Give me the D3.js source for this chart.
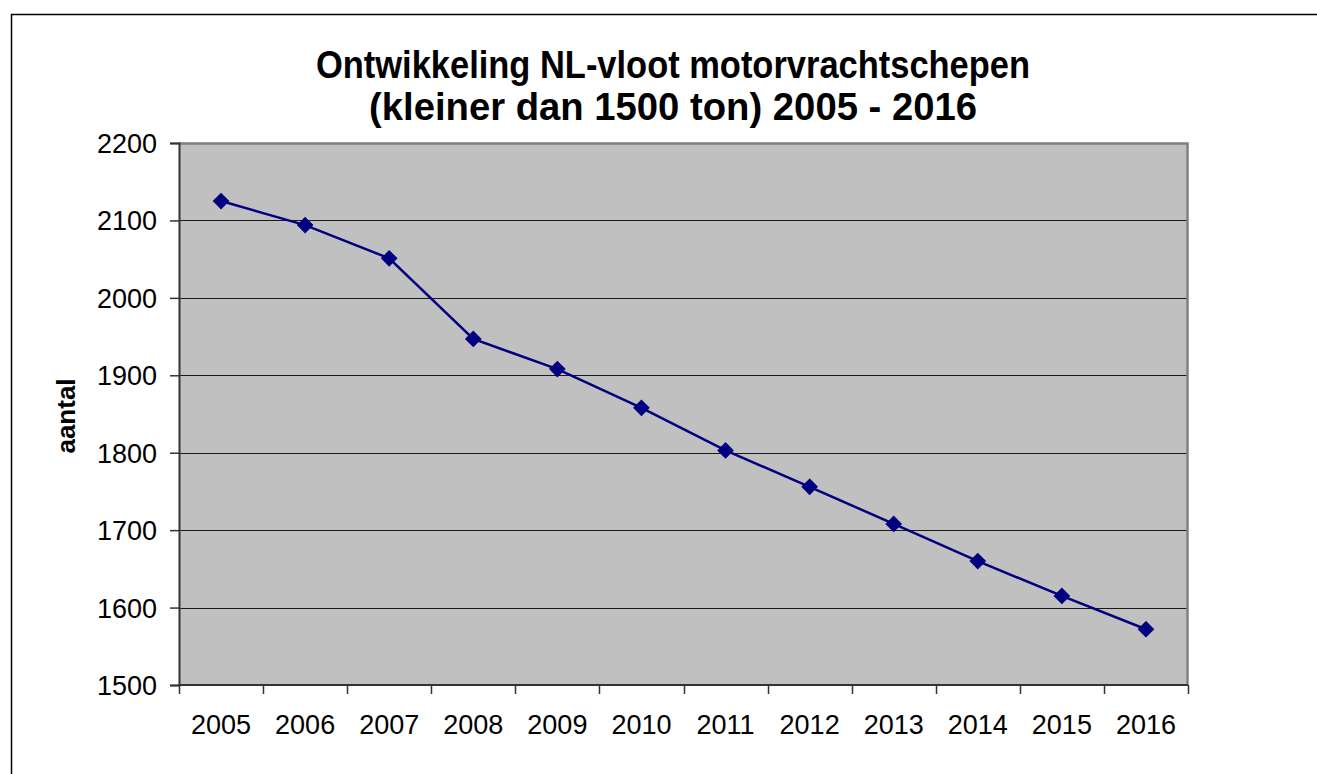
<!DOCTYPE html>
<html>
<head>
<meta charset="utf-8">
<script src="https://cdn.jsdelivr.net/npm/d3@7"></script>
<style>
  html, body { margin: 0; padding: 0; background: #fff; }
  svg { display: block; }
  text { font-family: "Liberation Sans", Arial, sans-serif; }
</style>
</head>
<body>
<svg id="chart" width="1317" height="774"></svg>
<script>
const years = ["2005","2006","2007","2008","2009","2010","2011","2012","2013","2014","2015","2016"];
const aantal = [2125, 2094, 2051, 1947, 1908, 1858, 1803, 1756, 1708, 1660, 1615, 1572];
const yTicks = [1500, 1600, 1700, 1800, 1900, 2000, 2100, 2200];
const titleLines = ["Ontwikkeling NL-vloot motorvrachtschepen", "(kleiner dan 1500 ton) 2005 - 2016"];
const yLabel = "aantal";

const svg = d3.select("#chart");
const W = 1317, H = 774;
const plot = { left: 179, right: 1188, top: 143, bottom: 685 };

// outer frame (only top & left visible)
svg.append("rect")
  .attr("x", 11.5).attr("y", 14.5)
  .attr("width", W + 20).attr("height", H + 20)
  .attr("fill", "none").attr("stroke", "#000").attr("stroke-width", 1.5);

const x = d3.scaleBand().domain(years).range([plot.left, plot.right]).paddingInner(0).paddingOuter(0);
const y = d3.scaleLinear().domain([1500, 2200]).range([plot.bottom, plot.top]);

// plot background
svg.append("rect")
  .attr("x", plot.left).attr("y", plot.top)
  .attr("width", plot.right - plot.left).attr("height", plot.bottom - plot.top)
  .attr("fill", "#C0C0C0");

// gridlines
svg.append("g").selectAll("line")
  .data(yTicks.filter(t => t > 1500 && t < 2200))
  .join("line")
  .attr("x1", plot.left).attr("x2", plot.right)
  .attr("y1", d => Math.round(y(d)) + 0.5).attr("y2", d => Math.round(y(d)) + 0.5)
  .attr("stroke", "#1a1a1a").attr("stroke-width", 1.2);

// top & right frame in gray
svg.append("path")
  .attr("d", `M${plot.left},${plot.top + 0.5}H${plot.right - 0.5}V${plot.bottom}`)
  .attr("fill", "none").attr("stroke", "#808080").attr("stroke-width", 2.5);

// Y axis
const yAxis = d3.axisLeft(y).tickValues(yTicks).tickSize(9).tickPadding(13).tickFormat(d3.format("d"));
const gy = svg.append("g").attr("transform", `translate(${plot.left},0)`).call(yAxis);
gy.select(".domain").attr("stroke", "#333").attr("stroke-width", 2);
gy.selectAll(".tick line").attr("stroke", "#333").attr("stroke-width", 1.5);
gy.selectAll(".tick text").attr("font-size", 27).attr("fill", "#000")
  .style("font-family", "'Liberation Sans', Arial, sans-serif").attr("dy", "0.35em");

// X axis: labels centered in bands, ticks at band boundaries
const gx = svg.append("g").attr("transform", `translate(0,${plot.bottom})`);
gx.append("line").attr("x1", plot.left - 1).attr("x2", plot.right)
  .attr("y1", 0).attr("y2", 0).attr("stroke", "#333").attr("stroke-width", 2);
const boundaries = years.map(d => x(d)).concat([x(years[years.length - 1]) + x.bandwidth()]);
gx.selectAll("line.tk").data(boundaries).join("line").attr("class", "tk")
  .attr("x1", d => Math.round(d) + 0.5).attr("x2", d => Math.round(d) + 0.5)
  .attr("y1", 0).attr("y2", 9).attr("stroke", "#333").attr("stroke-width", 1.5);
gx.selectAll("text").data(years).join("text")
  .attr("x", d => x(d) + x.bandwidth() / 2).attr("y", 49)
  .attr("text-anchor", "middle").attr("font-size", 27).attr("fill", "#000")
  .text(d => d);

// line
const pts = years.map((d, i) => [x(d) + x.bandwidth() / 2, y(aantal[i])]);
svg.append("path")
  .attr("d", d3.line()(pts))
  .attr("fill", "none").attr("stroke", "#000080").attr("stroke-width", 2.5);

// diamond markers
svg.append("g").selectAll("path")
  .data(pts).join("path")
  .attr("transform", d => `translate(${d[0]},${d[1]})`)
  .attr("d", "M0,-7.5L7.5,0L0,7.5L-7.5,0Z")
  .attr("fill", "#000080").attr("stroke", "#000080").attr("stroke-width", 1.2);

// title
const titleWidths = [714, 608];
svg.append("g").selectAll("text").data(titleLines).join("text")
  .attr("x", 673).attr("y", (d, i) => 78 + i * 42)
  .attr("text-anchor", "middle").attr("font-size", 39).attr("font-weight", "bold")
  .attr("textLength", (d, i) => titleWidths[i]).attr("lengthAdjust", "spacingAndGlyphs")
  .attr("fill", "#000").text(d => d);

// y label
svg.append("text")
  .attr("transform", `translate(75,416) rotate(-90)`)
  .attr("text-anchor", "middle").attr("font-size", 26).attr("font-weight", "bold")
  .attr("fill", "#000").text(yLabel);
</script>
</body>
</html>
